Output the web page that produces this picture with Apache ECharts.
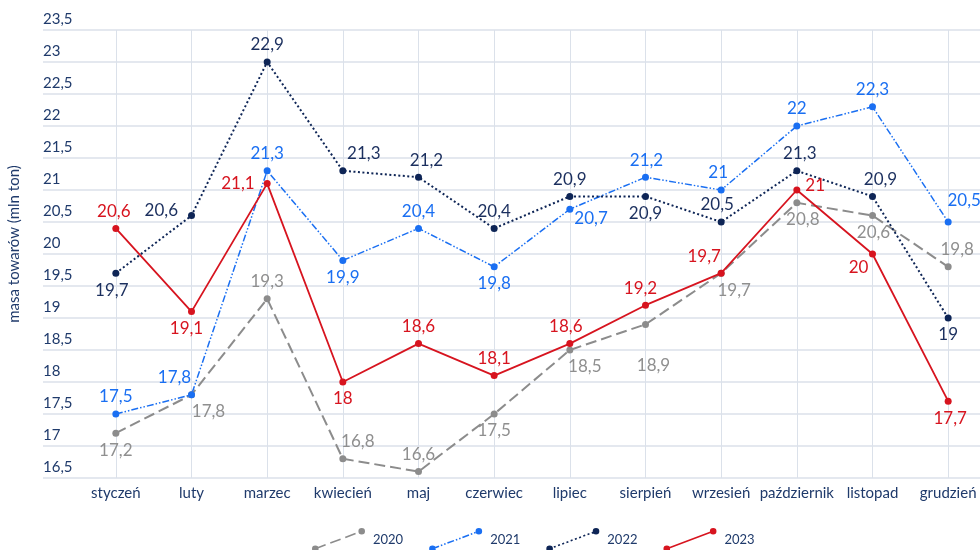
<!DOCTYPE html>
<html>
<head>
<meta charset="utf-8">
<script src="https://cdn.jsdelivr.net/npm/echarts@6/dist/echarts.min.js"></script>
<style>
  html, body { margin: 0; padding: 0; background: #fff; }
  #chart { width: 980px; height: 550px; }
</style>
</head>
<body>
<div id="chart"></div>
<script>
// dane
const months = ['styczeń', 'luty', 'marzec', 'kwiecień', 'maj', 'czerwiec', 'lipiec', 'sierpień', 'wrzesień', 'październik', 'listopad', 'grudzień'];
const years = ['2020', '2021', '2022', '2023'];
const v2020 = [17.2, 17.8, 19.3, 16.8, 16.6, 17.5, 18.5, 18.9, 19.7, 20.8, 20.6, 19.8];
const v2021 = [17.5, 17.8, 21.3, 19.9, 20.4, 19.8, 20.7, 21.2, 21, 22, 22.3, 20.5];
const v2022 = [19.7, 20.6, 23.0, 21.3, 21.2, 20.4, 20.9, 20.9, 20.5, 21.3, 20.9, 19];
const v2023 = [20.4, 19.1, 21.1, 18, 18.6, 18.1, 18.6, 19.2, 19.7, 21, 20, 17.7];
// etykiety wypisane na wykresie tam, gdzie różnią się od punktu
const shown2022 = {2: '22,9'};
const shown2023 = {0: '20,6'};
const yMin = 16.5, yMax = 23.5, yStep = 0.5;

const axisColor = '#1f3a6b';
const gridColor = '#dbe1ea';

/* ustawienie etykiet: [pozycja, dx, dy] */
const place = {
  '2020': [['bottom',0,0],['bottom',17,0],['top',0,0],['top',15,0],['top',0,0],['bottom',0,0],['bottom',15,0],['bottom',8,24],['bottom',13,0],['bottom',6,0],['bottom',1,0],['top',9,0]],
  '2021': [['top',0,0],['top',-17,0],['top',0,0],['bottom',0,0],['top',0,0],['bottom',0,0],['right',-4,9],['top',1,0],['top',-3,0],['top',0,0],['top',0,0],['top',16,-4]],
  '2022': [['bottom',-4,0],['left',-5,-5],['top',0,0],['top',21,0],['top',8,0],['top',0,0],['top',0,0],['bottom',0,0],['top',-4,0],['top',3,0],['top',8,0],['bottom',0,0]],
  '2023': [['top',-2,0],['bottom',-5,0],['left',-4,0],['bottom',0,0],['top',0,0],['top',0,0],['top',-4,0],['top',-5,0],['top',-17,0],['right',0,-4],['bottom',-14,-3],['bottom',2,0]]
};

/* ikonka legendy: skośna linia z kropkami na końcach */
function legendIcon(pattern) {
  const w = 53, h = 24, r = 3.3, t = 0.8;
  const x0 = r, y0 = h - r, x1 = w - r, y1 = r;
  const len = Math.hypot(x1 - x0, y1 - y0);
  const ux = (x1 - x0) / len, uy = (y1 - y0) / len;
  const nx = -uy * t, ny = ux * t;
  let p = '';
  const circle = (cx, cy) => 'M' + (cx - r) + ' ' + cy + 'A' + r + ' ' + r + ' 0 1 0 ' + (cx + r) + ' ' + cy +
    'A' + r + ' ' + r + ' 0 1 0 ' + (cx - r) + ' ' + cy + 'Z';
  p += circle(x0, y0) + circle(x1, y1);
  let s = 0, k = 0;
  while (s < len) {
    const d = pattern[k % pattern.length];
    if (k % 2 === 0) {
      const e = Math.min(s + d, len);
      const ax = x0 + ux * s, ay = y0 + uy * s, bx = x0 + ux * e, by = y0 + uy * e;
      p += 'M' + (ax + nx) + ' ' + (ay + ny) + 'L' + (bx + nx) + ' ' + (by + ny) +
        'L' + (bx - nx) + ' ' + (by - ny) + 'L' + (ax - nx) + ' ' + (ay - ny) + 'Z';
    }
    s += d;
    k++;
  }
  return 'path://' + p;
}

const styles = {
  '2020': {color: '#8c8c8c', label: '#8f8f8f', dash: [11, 5], width: 2},
  '2021': {color: '#1a6ff2', label: '#1a6ff2', dash: [7, 2, 1.5, 2, 1.5, 2], width: 1.5},
  '2022': {color: '#0e2556', label: '#1b2f5e', dash: [2, 2.5], width: 2},
  '2023': {color: '#d7141f', label: '#d7141f', dash: 'solid', width: 1.8}
};
const values = {'2020': v2020, '2021': v2021, '2022': v2022, '2023': v2023};
const shown = {'2022': shown2022, '2023': shown2023};

function fmt(v) {
  return String(v).replace('.', ',');
}

let series = years.map(function (y) {
  let st = styles[y];
  return {
    name: y,
    type: 'line',
    symbol: 'circle',
    symbolSize: 7,
    z: y === '2023' ? 5 : 3,
    itemStyle: {color: st.color},
    lineStyle: {color: st.color, width: st.width, type: st.dash},
    emphasis: {disabled: true},
    data: values[y].map(function (v, i) {
      let pl = place[y][i];
      let txt = (shown[y] && shown[y][i]) || fmt(v);
      return {
        value: v,
        label: {
          show: true,
          position: pl[0],
          offset: [pl[1], pl[2]],
          distance: 5,
          color: st.label,
          fontSize: 17,
          fontFamily: 'Lato',
          formatter: txt
        }
      };
    })
  };
});

let myChart = echarts.init(document.getElementById('chart'));
let option = {
  animation: false,
  backgroundColor: '#fff',
  grid: {left: 78, top: 30, width: 908, height: 448, containLabel: false, outerBoundsMode: 'none'},
  legend: {
    data: years.map(function (y) {
      return {name: y, icon: legendIcon(styles[y].dash === 'solid' ? [1000] : styles[y].dash)};
    }),
    left: 307,
    top: 523,
    itemWidth: 53,
    itemHeight: 24,
    itemGap: 26,
    itemStyle: {borderWidth: 0},
    textStyle: {color: axisColor, fontSize: 13, fontFamily: 'Lato', padding: [0, 0, 0, 3]}
  },
  xAxis: {
    type: 'category',
    data: months,
    boundaryGap: true,
    axisLine: {show: false},
    axisTick: {show: true, interval: 0, inside: true, length: 448, alignWithLabel: true, lineStyle: {color: gridColor, width: 1}},
    axisLabel: {interval: 0, color: axisColor, fontSize: 15, fontFamily: 'Lato', margin: 8},
    splitLine: {show: false}
  },
  yAxis: {
    type: 'value',
    min: yMin,
    max: yMax,
    interval: yStep,
    name: 'masa towarów (mln ton)',
    nameLocation: 'middle',
    nameRotate: 90,
    nameGap: 56,
    nameTextStyle: {color: axisColor, fontSize: 15, fontFamily: 'Lato', padding: [0, 0, 0, 20]},
    axisLine: {show: false},
    axisTick: {show: true, inside: false, length: 35, lineStyle: {color: gridColor, width: 1.5}},
    axisLabel: {
      color: axisColor, fontSize: 15, fontFamily: 'Lato', margin: 35, align: 'left',
      verticalAlign: 'bottom', padding: [0, 0, 3, 0],
      formatter: function (v) { return fmt(v); }
    },
    splitLine: {show: true, lineStyle: {color: gridColor, width: 1.5}}
  },
  series: series
};
myChart.setOption(option);
window.onresize = myChart.resize;
</script>
</body>
</html>
